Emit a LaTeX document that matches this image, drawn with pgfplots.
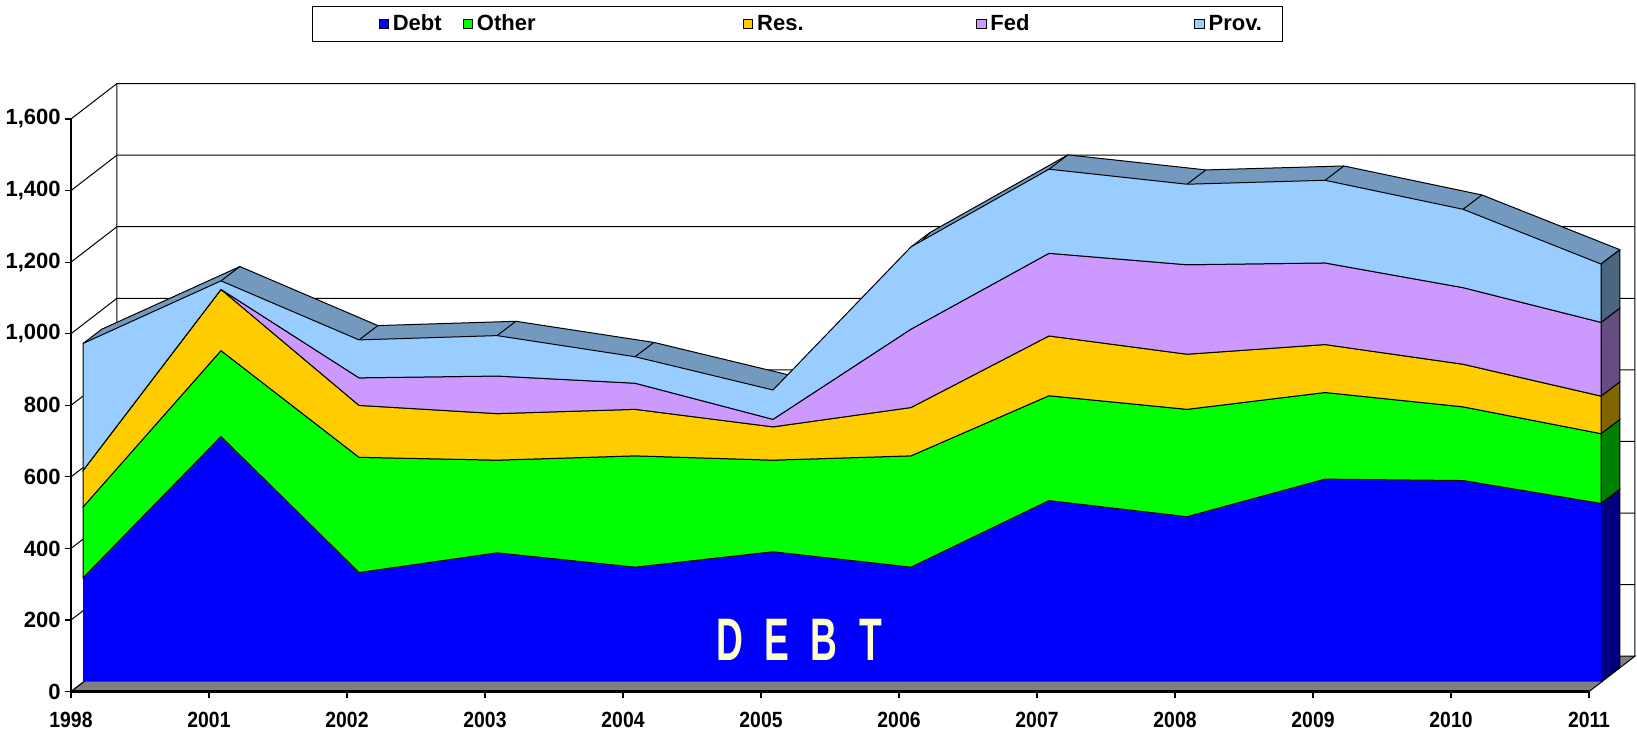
\documentclass[border=0pt]{standalone}
\usepackage{fontspec}
\setmainfont{Liberation Sans}
\newfontfamily\narrowfont[FakeStretch=0.88]{Liberation Sans}
\newfontfamily\condfont[FakeStretch=0.62]{Liberation Sans}
\usepackage{pgfplots}
\usepackage{pgfplotstable}
\pgfplotsset{compat=1.18}
\usepgfplotslibrary{fillbetween}

\definecolor{cDebt}{HTML}{0000FF}
\definecolor{cOther}{HTML}{00FF00}
\definecolor{cRes}{HTML}{FFCC00}
\definecolor{cFed}{HTML}{CC99FF}
\definecolor{cProv}{HTML}{99CCFF}
\definecolor{cTop}{HTML}{7399BF}
\definecolor{sDebt}{HTML}{000080}
\definecolor{sOther}{HTML}{008000}
\definecolor{sRes}{HTML}{806600}
\definecolor{sFed}{HTML}{664D80}
\definecolor{sProv}{HTML}{4D6680}
\definecolor{floorgray}{HTML}{808080}
\definecolor{debtyellow}{HTML}{FFFFCC}

\pgfplotstableread{
x debt other res fed prov
0 290 198 102 0 355
1 685 240 171 0 24
2 305 322 145 77 106
3 360 259 130 105 113
4 320 311 130 73 74
5 363 256 93 21 82
6 320 311 135 219 230
7 506 293 167 231 235
8 461 300 154 250 225
9 566 242 134 228 231
10 562 206 119 214 219
11 498 195 105 206 163
}\datatable

\pgfplotsset{
  sqleg/.style={legend image code/.code={\draw[fill=#1,draw=black,line width=0.4pt] (0pt,-2.35pt) rectangle (4.7pt,2.35pt);}},
  sqlegpad/.style={legend image code/.code={\path (-30pt,0pt); \draw[fill=#1,draw=black,line width=0.4pt] (0pt,-2.35pt) rectangle (4.7pt,2.35pt);}},
}

\begin{document}
\begin{tikzpicture}
\pgfplotstablegetelem{11}{debt}\of\datatable \pgfmathsetmacro\cA{\pgfplotsretval}
\pgfplotstablegetelem{11}{other}\of\datatable \pgfmathsetmacro\cB{\cA+\pgfplotsretval}
\pgfplotstablegetelem{11}{res}\of\datatable \pgfmathsetmacro\cC{\cB+\pgfplotsretval}
\pgfplotstablegetelem{11}{fed}\of\datatable \pgfmathsetmacro\cD{\cC+\pgfplotsretval}
\pgfplotstablegetelem{11}{prov}\of\datatable \pgfmathsetmacro\cE{\cD+\pgfplotsretval}
\pgfmathsetmacro\fA{\cA+27.7}\pgfmathsetmacro\bA{\cA+67.7}
\pgfmathsetmacro\fB{\cB+27.7}\pgfmathsetmacro\bB{\cB+67.7}
\pgfmathsetmacro\fC{\cC+27.7}\pgfmathsetmacro\bC{\cC+67.7}
\pgfmathsetmacro\fD{\cD+27.7}\pgfmathsetmacro\bD{\cD+67.7}
\pgfmathsetmacro\fE{\cE+27.7}\pgfmathsetmacro\bE{\cE+67.7}
\begin{axis}[
  at={(0,0)}, anchor=south west,
  scale only axis, width=759pt, height=286.3pt,
  xmin=0, xmax=11, ymin=0, ymax=1600, enlargelimits=false,
  clip=false, axis on top,
  axis x line*=bottom, axis y line*=left,
  x axis line style={-, line width=1.2pt},
  y axis line style={-, line width=1pt},
  xtick={0,...,11},
  xticklabels={1998,2001,2002,2003,2004,2005,2006,2007,2008,2009,2010,2011},
  ytick={0,200,...,1600},
  tick align=outside, major tick length=3pt,
  tick style={black, line width=0.6pt},
  xticklabel style={font=\narrowfont\bfseries\fontsize{11}{13}\selectfont, yshift=-3.5pt},
  yticklabel style={font=\bfseries\fontsize{11}{13}\selectfont, inner xsep=2pt},
  scaled y ticks=false,
  /pgf/number format/1000 sep={,},
  /pgf/number format/assume math mode=true,
  legend columns=5,
  legend style={at={(0.4786,1.1659)}, anchor=center, draw=black, line width=0.5pt,
    font=\bfseries\fontsize{11}{13}\selectfont,
    /tikz/every even column/.append style={column sep=0pt}},
]
% walls
\draw[line width=0.5pt] (0,0) -- (0.333,99) -- (0.333,1699) -- (11.333,1699) -- (11.333,99);
\draw[line width=0.5pt] (0,1600) -- (0.333,1699);
\draw[line width=0.5pt] (0,200) -- (0.333,299) -- (11.333,299);
\draw[line width=0.5pt] (0,400) -- (0.333,499) -- (11.333,499);
\draw[line width=0.5pt] (0,600) -- (0.333,699) -- (11.333,699);
\draw[line width=0.5pt] (0,800) -- (0.333,899) -- (11.333,899);
\draw[line width=0.5pt] (0,1000) -- (0.333,1099) -- (11.333,1099);
\draw[line width=0.5pt] (0,1200) -- (0.333,1299) -- (11.333,1299);
\draw[line width=0.5pt] (0,1400) -- (0.333,1499) -- (11.333,1499);
% floor
\draw[fill=floorgray, line width=0.5pt] (0,0) -- (11,0) -- (11.333,99) -- (0.333,99) -- cycle;

% named paths (front face and back top)
\addplot[draw=none, name path=f0, forget plot] table[x expr=\thisrow{x}+0.087, y expr=27.7]{\datatable};
\addplot[draw=none, name path=f1, forget plot] table[x expr=\thisrow{x}+0.087, y expr=\thisrow{debt}+27.7]{\datatable};
\addplot[draw=none, name path=f2, forget plot] table[x expr=\thisrow{x}+0.087, y expr=\thisrow{debt}+\thisrow{other}+27.7]{\datatable};
\addplot[draw=none, name path=f3, forget plot] table[x expr=\thisrow{x}+0.087, y expr=\thisrow{debt}+\thisrow{other}+\thisrow{res}+27.7]{\datatable};
\addplot[draw=none, name path=f4, forget plot] table[x expr=\thisrow{x}+0.087, y expr=\thisrow{debt}+\thisrow{other}+\thisrow{res}+\thisrow{fed}+27.7]{\datatable};
\addplot[draw=none, name path=f5, forget plot] table[x expr=\thisrow{x}+0.087, y expr=\thisrow{debt}+\thisrow{other}+\thisrow{res}+\thisrow{fed}+\thisrow{prov}+27.7]{\datatable};
\addplot[draw=none, name path=b5, forget plot] table[x expr=\thisrow{x}+0.224, y expr=\thisrow{debt}+\thisrow{other}+\thisrow{res}+\thisrow{fed}+\thisrow{prov}+67.7]{\datatable};

% top slab
\addplot[fill=cTop, draw=none, forget plot] fill between[of=f5 and b5, on layer=main];
\addplot[black, line width=0.5pt, no markers, forget plot] table[x expr=\thisrow{x}+0.224, y expr=\thisrow{debt}+\thisrow{other}+\thisrow{res}+\thisrow{fed}+\thisrow{prov}+67.7]{\datatable};
\addplot[black, line width=0.5pt, -, no markers, forget plot, quiver={u=0.137, v=40}] table[x expr=\thisrow{x}+0.087, y expr=\thisrow{debt}+\thisrow{other}+\thisrow{res}+\thisrow{fed}+\thisrow{prov}+27.7]{\datatable};

% right side faces
\addplot[fill=sDebt, draw=black, line width=0.5pt, forget plot] coordinates {(11.087,27.7) (11.087,\fA) (11.224,\bA) (11.224,67.7)} -- cycle;
\addplot[fill=sOther, draw=black, line width=0.5pt, forget plot] coordinates {(11.087,\fA) (11.087,\fB) (11.224,\bB) (11.224,\bA)} -- cycle;
\addplot[fill=sRes, draw=black, line width=0.5pt, forget plot] coordinates {(11.087,\fB) (11.087,\fC) (11.224,\bC) (11.224,\bB)} -- cycle;
\addplot[fill=sFed, draw=black, line width=0.5pt, forget plot] coordinates {(11.087,\fC) (11.087,\fD) (11.224,\bD) (11.224,\bC)} -- cycle;
\addplot[fill=sProv, draw=black, line width=0.5pt, forget plot] coordinates {(11.087,\fD) (11.087,\fE) (11.224,\bE) (11.224,\bD)} -- cycle;

% front faces
\addplot[fill=cDebt, draw=none, forget plot] fill between[of=f0 and f1, on layer=main];
\addplot[fill=cOther, draw=black, line width=0.5pt, forget plot] fill between[of=f1 and f2, on layer=main];
\addplot[fill=cRes, draw=black, line width=0.5pt, forget plot] fill between[of=f2 and f3, on layer=main];
\addplot[fill=cFed, draw=black, line width=0.5pt, forget plot] fill between[of=f3 and f4, on layer=main];
\addplot[fill=cProv, draw=black, line width=0.5pt, forget plot] fill between[of=f4 and f5, on layer=main];

\node[anchor=base, inner sep=0pt, text=debtyellow, font=\condfont\bfseries\fontsize{30}{34}\selectfont] at (axis cs:5.283,86) {\makebox[23.5pt]{D}\makebox[23.5pt]{E}\makebox[23.5pt]{B}\makebox[23.5pt]{T}};

\addlegendimage{sqlegpad=cDebt}\addlegendentry{\makebox[33pt][l]{Debt}}
\addlegendimage{sqleg=cOther}\addlegendentry{\makebox[131pt][l]{Other}}
\addlegendimage{sqleg=cRes}\addlegendentry{\makebox[107.5pt][l]{Res.}}
\addlegendimage{sqleg=cFed}\addlegendentry{\makebox[100pt][l]{Fed}}
\addlegendimage{sqleg=cProv}\addlegendentry{\makebox[32pt][l]{Prov.}}
\end{axis}
\pgfresetboundingbox
\path[use as bounding box] (-35.5pt,-19.7pt) rectangle (783pt,345.8pt);
\end{tikzpicture}
\end{document}
